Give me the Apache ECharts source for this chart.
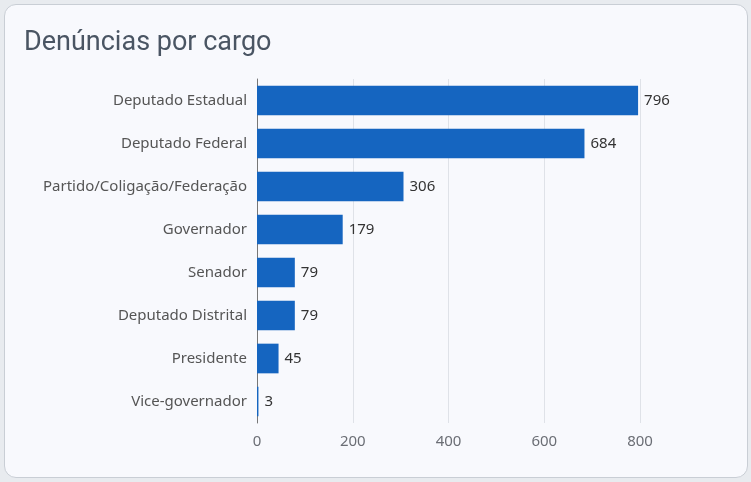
<!DOCTYPE html>
<html>
<head>
<meta charset="utf-8">
<script src="https://cdn.jsdelivr.net/npm/echarts@6/dist/echarts.min.js"></script>
<style>
  html, body { margin: 0; padding: 0; background: #e8ebef; width: 751px; height: 482px; overflow: hidden; }
  #card {
    position: absolute; left: 4px; top: 4px; width: 742px; height: 472px;
    background: #f8f9fd; border: 1px solid #c9ced5; border-radius: 12px;
  }
</style>
</head>
<body>
<div id="card"></div>
<script>
// dados do gráfico
const cargos = ['Deputado Estadual', 'Deputado Federal', 'Partido/Coligação/Federação', 'Governador',
  'Senador', 'Deputado Distrital', 'Presidente', 'Vice-governador']
const denuncias = [796, 684, 306, 179, 79, 79, 45, 3]
const eixoMax = 800
const eixoIntervalo = 200

const chart = echarts.init(document.getElementById('card'))
chart.setOption({
  animation: false,
  title: {
    text: 'Denúncias por cargo',
    left: 19, top: 25, padding: 0,
    textStyle: { fontFamily: 'Roboto', fontSize: 27, fontWeight: 'normal', color: '#4a5563' }
  },
  grid: { left: 252, right: 107, top: 74, bottom: 54 },
  xAxis: {
    type: 'value', min: 0, max: eixoMax, interval: eixoIntervalo,
    axisLine: { show: false }, axisTick: { show: false },
    axisLabel: { margin: 11, fontFamily: 'Noto Sans', fontSize: 15, color: '#6b6e75' },
    splitLine: { lineStyle: { color: '#dfe2e8', width: 1 } }
  },
  yAxis: {
    type: 'category', data: cargos, inverse: true,
    axisLine: { lineStyle: { color: '#777', width: 1 } }, axisTick: { show: false },
    axisLabel: { margin: 10, fontFamily: 'Noto Sans', fontSize: 15, color: '#555' }
  },
  series: [{
    type: 'bar', data: denuncias, barCategoryGap: '31%',
    itemStyle: { color: '#1565c0' },
    label: { show: true, position: 'right', distance: 6, fontFamily: 'Noto Sans', fontSize: 15, color: '#333' }
  }]
})
</script>
</body>
</html>
